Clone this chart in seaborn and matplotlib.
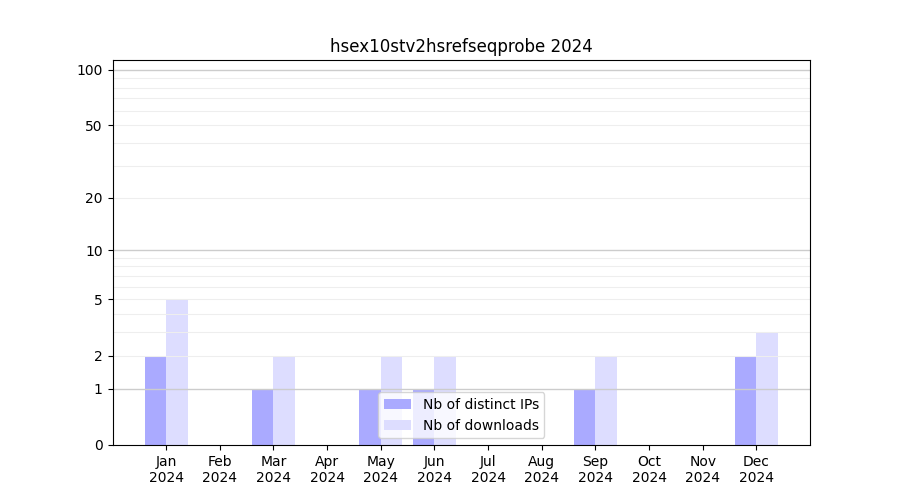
import numpy as np
import pandas as pd
import matplotlib
matplotlib.use("Agg")
import matplotlib.pyplot as plt
import seaborn as sns

months = ["Jan", "Feb", "Mar", "Apr", "May", "Jun", "Jul", "Aug", "Sep", "Oct", "Nov", "Dec"]
distinct_ips = [2, 0, 1, 0, 1, 1, 0, 0, 1, 0, 0, 2]
downloads = [5, 0, 2, 0, 2, 2, 0, 0, 2, 0, 0, 3]

labels = [m + "\n2024" for m in months]
df = pd.DataFrame({
    "month": labels * 2,
    "value": distinct_ips + downloads,
    "series": ["Nb of distinct IPs"] * 12 + ["Nb of downloads"] * 12,
})

fig, ax = plt.subplots(figsize=(9, 5), dpi=100)
sns.barplot(data=df, x="month", y="value", hue="series",
            palette=["#aaaaff", "#ddddff"], saturation=1, width=0.8, ax=ax)

# log(1 + x) axis
ax.set_yscale("function", functions=(lambda v: np.log10(1 + np.maximum(v, 0)),
                                      lambda v: 10 ** v - 1))
ax.set_ylim(0, 113)
ax.set_xlim(-1, 12)

ax.set_yticks([0, 1, 2, 5, 10, 20, 50, 100])
ax.set_yticklabels(["0", "1", "2", "5", "10", "20", "50", "100"])
ax.yaxis.set_minor_locator(matplotlib.ticker.NullLocator())
light = [2, 3, 4, 5, 6, 7, 8, 9, 20, 30, 40, 50, 60, 70, 80, 90]
for v in light:
    ax.axhline(v, color="#eeeeee", lw=0.8, zorder=2)
for v in [1, 10, 100]:
    ax.axhline(v, color="#cccccc", lw=1, zorder=2)

ax.set_xlabel("")
ax.set_ylabel("")
ax.set_title("hsex10stv2hsrefseqprobe 2024")
ax.legend(loc="lower center", title=None)

plt.savefig("out.png", dpi=100)
